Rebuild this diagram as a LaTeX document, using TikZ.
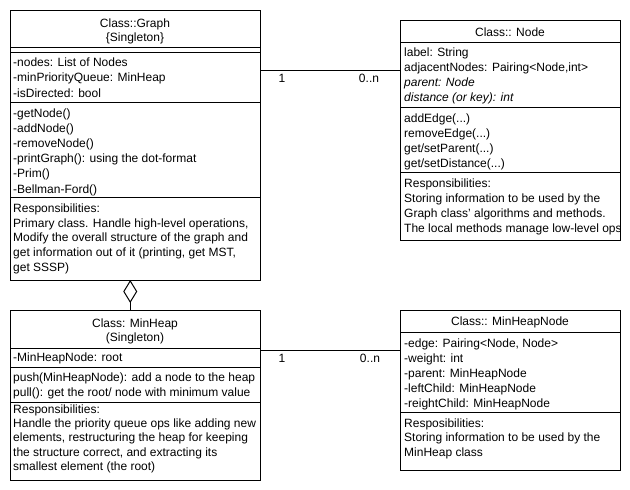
\documentclass[tikz,border=0pt]{standalone}
\usepackage{fontspec}
\setmainfont{Liberation Sans}
\usetikzlibrary{arrows.meta}
\def\tdots{...}
\begin{document}
\begin{tikzpicture}[x=1pt,y=-1pt,
  box/.style={draw, line width=1pt, anchor=north west, inner sep=0pt, outer sep=0pt},
  txt/.style={anchor=base west, inner sep=0pt, font=\fontsize{12}{14}\selectfont},
  ctxt/.style={anchor=base, inner sep=0pt, font=\fontsize{12}{14}\selectfont},
  sepline/.style={line width=1pt},
  conn/.style={line width=1pt},
  agg/.style={line width=1pt, -{Diamond[open, length=23pt, width=14pt]}}
]
\fill[white] (0,0) rectangle (630,490);
\useasboundingbox (0,0) rectangle (630,490);

% ---------- Class::Graph ----------
\node[box, minimum width=250.5pt, minimum height=270pt] (graph) at (10,10) {};
\node[ctxt] (gh1) at (135,{23.5+4.3}) {Class::Graph};
\node[ctxt] (gh2) at (135,{37+4.3}) {\{Singleton\}};
\draw[sepline] (10,47.5) -- (260.5,47.5);
\draw[sepline] (10,52) -- (260.5,52);
\foreach \t [count=\i] in {-nodes: List of Nodes, -minPriorityQueue: MinHeap, -isDirected: bool}
  \node[txt] (ga\i) at (13,{62.3+4.3+(\i-1)*15.3}) {\t};
\draw[sepline] (10,102) -- (260.5,102);
\foreach \t [count=\i] in {-getNode(), -addNode(), -removeNode(), -printGraph(): using the dot-format, -Prim(), -Bellman-Ford()}
  \node[txt] (gm\i) at (13,{112.7+4.3+(\i-1)*15.2}) {\t};
\draw[sepline] (10,197) -- (260.5,197);
\foreach \t [count=\i] in {Responsibilities:, {Primary class. Handle high-level operations,}, Modify the overall structure of the graph and, {get information out of it (printing, get MST,}, get SSSP)}
  \node[txt] (gr\i) at (13,{208.3+4.3+(\i-1)*14.6}) {\t};

% ---------- Class:: Node ----------
\node[box, minimum width=220.5pt, minimum height=220pt] (nodecls) at (400,20) {};
\node[ctxt] (nh1) at (510,{32.5+4.3}) {Class:: Node};
\draw[sepline] (400,42) -- (620.5,42);
\foreach \t [count=\i] in {label: String, {adjacentNodes: Pairing<Node,int>}, {\itshape parent: Node}, {\itshape distance (or key): int}}
  \node[txt] (na\i) at (404,{52.5+4.3+(\i-1)*15}) {\t};
\draw[sepline] (400,107.3) -- (620.5,107.3);
\foreach \t [count=\i] in {addEdge(\tdots), removeEdge(\tdots), get/setParent(\tdots), get/setDistance(\tdots)}
  \node[txt] (nm\i) at (404,{118+4.3+(\i-1)*15}) {\t};
\draw[sepline] (400,172) -- (620.5,172);
\begin{scope}
\clip (400,172) rectangle (620,240);
\foreach \t [count=\i] in {Responsibilities:, Storing information to be used by the, Graph class' algorithms and methods., The local methods manage low-level ops}
  \node[txt] (nr\i) at (404,{183+4.3+(\i-1)*15}) {\t};
\end{scope}

% ---------- Class: MinHeap ----------
\node[box, minimum width=250.5pt, minimum height=170pt] (heap) at (10,310) {};
\node[ctxt] (hh1) at (135,{323.5+4.3}) {Class: MinHeap};
\node[ctxt] (hh2) at (135,{337.5+4.3}) {(Singleton)};
\draw[sepline] (10,348) -- (260.5,348);
\node[txt] (ha1) at (13,{357.5+4.3}) {-MinHeapNode: root};
\draw[sepline] (10,367) -- (260.5,367);
\foreach \t [count=\i] in {push(MinHeapNode): add a node to the heap, pull(): get the root/ node with minimum value}
  \node[txt] (hm\i) at (13,{377.5+4.3+(\i-1)*14.5}) {\t};
\draw[sepline] (10,402) -- (260.5,402);
\foreach \t [count=\i] in {Responsibilities:, Handle the priority queue ops like adding new, {elements, restructuring the heap for keeping}, {the structure correct, and extracting its}, smallest element (the root)}
  \node[txt] (hr\i) at (13,{409+4.3+(\i-1)*14.3}) {\t};

% ---------- Class:: MinHeapNode ----------
\node[box, minimum width=220.5pt, minimum height=160pt] (hnode) at (400,310) {};
\node[ctxt] (mh1) at (510,{321+4.3}) {Class:: MinHeapNode};
\draw[sepline] (400,332) -- (620.5,332);
\foreach \t [count=\i] in {{-edge: Pairing<Node, Node>}, -weight: int, -parent: MinHeapNode, -leftChild: MinHeapNode, -reightChild: MinHeapNode}
  \node[txt] (ma\i) at (404,{343+4.3+(\i-1)*15}) {\t};
\draw[sepline] (400,412) -- (620.5,412);
\foreach \t [count=\i] in {Resposibilities:, Storing information to be used by the, MinHeap class}
  \node[txt] (mr\i) at (404,{423+4.3+(\i-1)*14.5}) {\t};

% ---------- connectors ----------
\draw[conn] ([yshift=-60pt]graph.north east) -- ([yshift=-50pt]nodecls.north west);
\node[ctxt] (l1a) at (282,{78+4.3}) {1};
\node[ctxt] (l1b) at (369,{78+4.3}) {0..n};
\draw[conn] ([yshift=-40pt]heap.north east) -- ([yshift=-40pt]hnode.north west);
\node[ctxt] (l2a) at (282,{358+4.3}) {1};
\node[ctxt] (l2b) at (370,{358+4.3}) {0..n};
\draw[agg] ([xshift=-5pt]heap.north) -- ([xshift=-5pt]graph.south);
\end{tikzpicture}
\end{document}
